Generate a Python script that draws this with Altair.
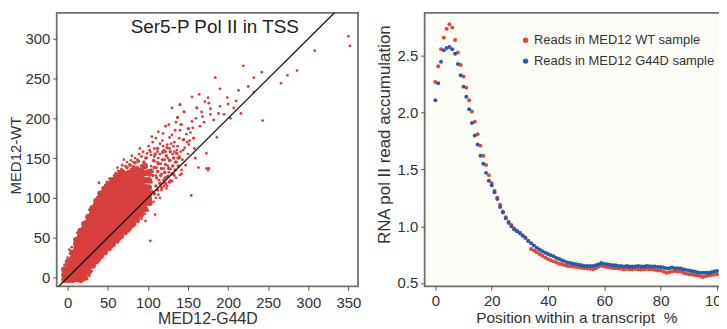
import altair as alt
import pandas as pd

# ---------------- left panel: scatter (MED12-G44D vs MED12-WT) ----------------
TITLE_LEFT = "Ser5-P Pol II in TSS"
X_TICKS_LEFT = [0, 50, 100, 150, 200, 250, 300, 350]
Y_TICKS_LEFT = [0, 50, 100, 150, 200, 250, 300]

# dense core of the cloud, read column by column (x = MED12-G44D, y = MED12-WT)
CORE_COL_X = [-4, 1, 6, 11, 16, 21, 26, 31, 36, 41, 46, 51, 56, 61, 66, 71,
              76, 81, 86, 91, 96, 101]
CORE_COL_Y = [
    [-3, 3, 10],
    [-3, 1, 8, 15, 20],
    [-3, 3, 10, 17, 24, 31],
    [-2, 2, 8, 15, 22, 29, 36, 42, 47],
    [-3, 3, 10, 17, 24, 31, 38, 45, 52, 58],
    [0, 5, 12, 19, 26, 33, 40, 47, 54, 61, 67],
    [7, 13, 20, 27, 34, 41, 48, 55, 62, 69, 76],
    [15, 19, 26, 33, 40, 47, 54, 61, 68, 75, 82, 87],
    [21, 27, 34, 41, 48, 55, 62, 69, 76, 83, 89, 96],
    [27, 30, 37, 44, 51, 58, 65, 72, 79, 86, 93, 99, 105],
    [32, 38, 45, 52, 59, 66, 73, 80, 87, 94, 101, 106, 111],
    [37, 40, 47, 54, 61, 68, 75, 82, 89, 96, 103, 110, 117],
    [42, 48, 55, 62, 69, 76, 83, 90, 97, 104, 111, 117, 122],
    [47, 51, 58, 65, 72, 79, 86, 93, 100, 107, 114, 121, 127],
    [52, 58, 65, 72, 79, 86, 93, 100, 107, 114, 121, 126, 131],
    [57, 61, 68, 75, 82, 89, 96, 103, 110, 117, 124, 130],
    [62, 68, 75, 82, 89, 96, 103, 110, 117, 124, 131],
    [67, 71, 78, 85, 92, 99, 106, 113, 120, 127, 134],
    [73, 79, 86, 93, 100, 107, 114, 121, 128, 136],
    [79, 83, 90, 97, 104, 111, 118, 126, 134],
    [86, 93, 100, 107, 114, 122, 131, 140],
    [94, 98, 105, 113, 122, 132],
]

# medium-density zone at the upper end of the cloud
MID_X = [104, 106, 108, 110, 111, 112, 113, 115, 116, 117, 118, 120, 121, 122, 123, 125,
         126, 127, 128, 130, 131, 132, 134, 135, 136, 138, 139, 104, 107, 109, 112, 119,
         124, 98, 95, 88, 84, 78, 74, 100, 105, 103, 108, 112, 117, 122, 127, 92, 82, 69]
MID_Y = [120, 128, 138, 115, 125, 133, 143, 118, 128, 137, 148, 122, 132, 142, 153, 127,
         137, 147, 158, 130, 140, 150, 135, 145, 156, 140, 150, 135, 147, 155, 162, 158,
         163, 150, 145, 146, 144, 141, 138, 110, 108, 100, 105, 110, 113, 118, 120, 140, 139, 134]

# sparse points around and outside the cloud
FRINGE_X = [-4, -2, 0, 3, 2, 5, 8, 9, 13, 12, 15, 18, 19, 22, 24, 28, 27, 30, 33, 34,
            38, 37, 40, 43, 44, 39, 47, 49, 53, 52, 56, 58, 60, 63, 62, 67, 68, 72, 74, 70,
            77, 79, 82, 84, 80, 87, 89, 92, 94, 90, 97, 99, 102, 104, 101, 106, 108, 110, 112, 113,
            115, 118, 119, 120, 122, 124, 126, 127, 130, 132, 134, 135, 137, 140, 141, 145, 145, 150, 151, 155,
            157, 159, 161, 163, 167, 168, 130, 105, 103,
            102, 104, 106, 108, 110, 111, 113, 114, 116, 117, 118, 120, 121, 123, 125, 126, 127, 128, 131, 132,
            133, 134, 136, 137, 138, 139, 141, 143, 146, 148, 150, 152, 147, 135,
            108, 112, 115, 119, 122, 125, 129, 133, 137, 140, 144, 149, 153, 156, 160, 165, 170, 178, 182, 190,
            195, 200, 210, 225, 117, 121, 128, 139, 142, 158,
            20, 24, 27, 30, 33, 36, 40, 43, 47, 50, 55, 58, 62, 65, 68, 72, 76, 80, 84, 88,
            92, 97, 96, 100, 103, 104, 107, 109, 110, 113, 115, 117, 120, 123, 124, 128, 130, 133, 140, 142,
            154, 173, 176, 175,
            350, 352, 308, 219, 242, 232, 286, 274, 266, 184, 232, 213, 190, 164, 155, 175, 199, 207, 216, 243,
            203, 188, 178, 176, 171, 186, 173, 159, 144, 157, 151, 142, 137, 145, 161, 140]
FRINGE_Y = [16, 20, 25, 30, 35, 38, 42, 48, 52, 56, 60, 62, 67, 70, 75, 80, 85, 88, 92, 96,
            95, 101, 104, 107, 112, 119, 116, 120, 118, 124, 123, 128, 131, 134, 138, 136, 141, 140, 145, 148,
            142, 147, 145, 150, 153, 148, 155, 152, 158, 162, 150, 156, 160, 154, 165, 170, 162, 175, 158, 183,
            168, 172, 181, 160, 190, 167, 192, 176, 179, 165, 185, 195, 201, 217, 192, 173, 208, 187, 167, 196,
            175, 150, 213, 138, 208, 202, 213, 177, 158,
            128, 140, 133, 146, 128, 138, 150, 122, 143, 130, 157, 137, 148, 126, 140, 132, 162, 147, 155, 130,
            170, 145, 160, 150, 140, 175, 158, 148, 163, 180, 155, 172, 141, 125,
            152, 145, 155, 165, 158, 150, 168, 158, 165, 185, 160, 170, 182, 188, 200, 190, 195, 205, 198, 215,
            205, 218, 222, 240, 118, 125, 136, 152, 130, 162,
            -3, -2, 2, 8, 14, 18, 22, 27, 30, 36, 38, 42, 44, 48, 51, 55, 58, 63, 67, 70,
            74, 71, 80, 84, 46, 92, 95, 79, 100, 104, 100, 110, 115, 112, 115, 122, 121, 128, 129, 135,
            103, 137, 137, 135,
            303, 291, 285, 266, 258, 251, 260, 254, 244, 251, 233, 235, 237, 230, 227, 226, 226, 213, 206, 197,
            200, 206, 212, 219, 221, 176, 156, 150, 173, 175, 187, 192, 201, 208, 213, 217]

DIAG = [-20, 345]

# ---------------- right panel: metagene profile ----------------
POSITION = list(range(101))
WT = [2.27, 2.41, 2.56, 2.66, 2.74, 2.78, 2.75, 2.64, 2.53, 2.42,
      2.32, 2.22, 2.11, 2.01, 1.92, 1.81, 1.71, 1.62, 1.54, 1.45,
      1.38, 1.31, 1.25, 1.19, 1.13, 1.08, 1.04, 1.01, 0.98, 0.96,
      0.94, 0.92, 0.90, 0.87, 0.80, 0.785, 0.77, 0.755, 0.74, 0.725,
      0.71, 0.70, 0.69, 0.68, 0.67, 0.665, 0.655, 0.65, 0.648, 0.645,
      0.64, 0.637, 0.633, 0.63, 0.628, 0.625, 0.62, 0.63, 0.645, 0.652,
      0.645, 0.64, 0.635, 0.632, 0.63, 0.627, 0.625, 0.62, 0.625, 0.62,
      0.62, 0.625, 0.62, 0.618, 0.62, 0.625, 0.62, 0.62, 0.615, 0.61,
      0.61, 0.60, 0.59, 0.595, 0.60, 0.605, 0.60, 0.60, 0.59, 0.582,
      0.577, 0.575, 0.57, 0.565, 0.56, 0.553, 0.558, 0.565, 0.57, 0.574,
      0.577]
G44D = [2.11, 2.26, 2.45, 2.55, 2.57, 2.58, 2.56, 2.52, 2.43, 2.33,
        2.23, 2.14, 2.03, 1.91, 1.80, 1.72, 1.62, 1.55, 1.47, 1.40,
        1.36, 1.30, 1.24, 1.17, 1.12, 1.07, 1.03, 1.00, 0.97, 0.955,
        0.94, 0.915, 0.895, 0.87, 0.85, 0.83, 0.81, 0.795, 0.78, 0.765,
        0.755, 0.745, 0.735, 0.72, 0.71, 0.70, 0.69, 0.68, 0.675, 0.67,
        0.665, 0.66, 0.655, 0.65, 0.65, 0.65, 0.65, 0.655, 0.665, 0.676,
        0.668, 0.665, 0.66, 0.655, 0.655, 0.65, 0.65, 0.645, 0.65, 0.645,
        0.645, 0.645, 0.65, 0.645, 0.645, 0.65, 0.648, 0.645, 0.645, 0.64,
        0.64, 0.635, 0.63, 0.63, 0.635, 0.63, 0.63, 0.628, 0.62, 0.615,
        0.61, 0.605, 0.60, 0.595, 0.59, 0.59, 0.59, 0.59, 0.595, 0.60,
        0.605]
SERIES = ["Reads in MED12 WT sample", "Reads in MED12 G44D sample"]
X_TICKS_RIGHT = [0, 20, 40, 60, 80, 100]
Y_TICKS_RIGHT = [0.5, 1.0, 1.5, 2.0, 2.5]

FONT = "Liberation Sans"
RED = "#d63f3b"
RED2 = "#e0463a"
BLUE = "#2c5aa6"
TXT = "#333333"

# ---------------- build left ----------------
core = pd.DataFrame([(x, y) for x, ys in zip(CORE_COL_X, CORE_COL_Y) for y in ys],
                    columns=["g44d", "wt"])
mid = pd.DataFrame({"g44d": MID_X, "wt": MID_Y})
fringe = pd.DataFrame({"g44d": FRINGE_X, "wt": FRINGE_Y})
diag = pd.DataFrame({"g44d": DIAG, "wt": DIAG})

xs = alt.Scale(domain=[-13.7, 362], nice=False, zero=False)
ys = alt.Scale(domain=[-11.2, 332.5], nice=False, zero=False)

x_left = alt.X("g44d:Q", scale=xs,
               axis=alt.Axis(values=X_TICKS_LEFT, title="MED12-G44D", titleFontSize=16,
                             labelPadding=5, titlePadding=0))
y_left = alt.Y("wt:Q", scale=ys,
               axis=alt.Axis(values=Y_TICKS_LEFT, title="MED12-WT", titleFontSize=15,
                             titlePadding=1, titleY=143))
xq = alt.X("g44d:Q", scale=xs)
yq = alt.Y("wt:Q", scale=ys)

core_layer = alt.Chart(core).mark_circle(size=44, color=RED, opacity=1).encode(x=x_left, y=y_left)
mid_layer = alt.Chart(mid).mark_circle(size=13, color=RED, opacity=1).encode(x=xq, y=yq)
fringe_layer = alt.Chart(fringe).mark_circle(size=8, color=RED, opacity=1).encode(x=xq, y=yq)
diag_layer = alt.Chart(diag).mark_line(color="#1a1a1a", strokeWidth=1.4, clip=True).encode(x=xq, y=yq)
title_layer = alt.Chart(pd.DataFrame({"t": [TITLE_LEFT]})).mark_text(
    font=FONT, fontSize=19, color="#222222", align="center", baseline="middle"
).encode(x=alt.value(159), y=alt.value(14), text="t:N")

left = alt.layer(core_layer, mid_layer, fringe_layer, diag_layer, title_layer).properties(
    width=303, height=275,
    view=alt.ViewBackground(fill="white", stroke="#6f6f6f", strokeWidth=1.8))

# ---------------- build right ----------------
prof = pd.DataFrame({
    "pos": POSITION * 2,
    "val": WT + G44D,
    "sample": [SERIES[0]] * len(POSITION) + [SERIES[1]] * len(POSITION),
})

right = alt.Chart(prof).mark_circle(size=16, opacity=1).encode(
    x=alt.X("pos:Q", scale=alt.Scale(domain=[-3.8, 103.9], nice=False, zero=False),
            axis=alt.Axis(values=X_TICKS_RIGHT, title="Position within a transcript\u00a0 %",
                          titleFontSize=15.5, titlePadding=2)),
    y=alt.Y("val:Q", scale=alt.Scale(domain=[0.47, 2.88], nice=False, zero=False),
            axis=alt.Axis(values=Y_TICKS_RIGHT, format=".1f",
                          title="RNA pol II read accumulation", titleFontSize=17,
                          titlePadding=3, titleY=122)),
    color=alt.Color("sample:N", scale=alt.Scale(domain=SERIES, range=[RED2, BLUE]),
                    legend=alt.Legend(title=None, orient="none", legendX=465, legendY=21,
                                      labelFont=FONT, labelFontSize=13, labelColor=TXT,
                                      labelLimit=0,
                                      symbolType="circle", symbolSize=30, symbolStrokeWidth=0,
                                      labelOffset=2, rowPadding=7, padding=0)),
).properties(width=305, height=275,
             view=alt.ViewBackground(fill="#fdfdf8", stroke="#6f6f6f", strokeWidth=1.8))

chart = alt.hconcat(left, right, spacing=13).properties(
    padding={"left": 0, "top": 3, "right": -12, "bottom": 0}
).configure_axis(
    domain=False, grid=False, tickSize=4, tickColor="#555555", tickWidth=1,
    labelFont=FONT, labelFontSize=15, labelColor=TXT, labelPadding=3,
    titleFont=FONT, titleFontWeight="normal", titleColor=TXT, titlePadding=5,
).configure_view(stroke="#6f6f6f", strokeWidth=1.8)

chart.save("out.html", embed_options={"renderer": "svg", "actions": False})
